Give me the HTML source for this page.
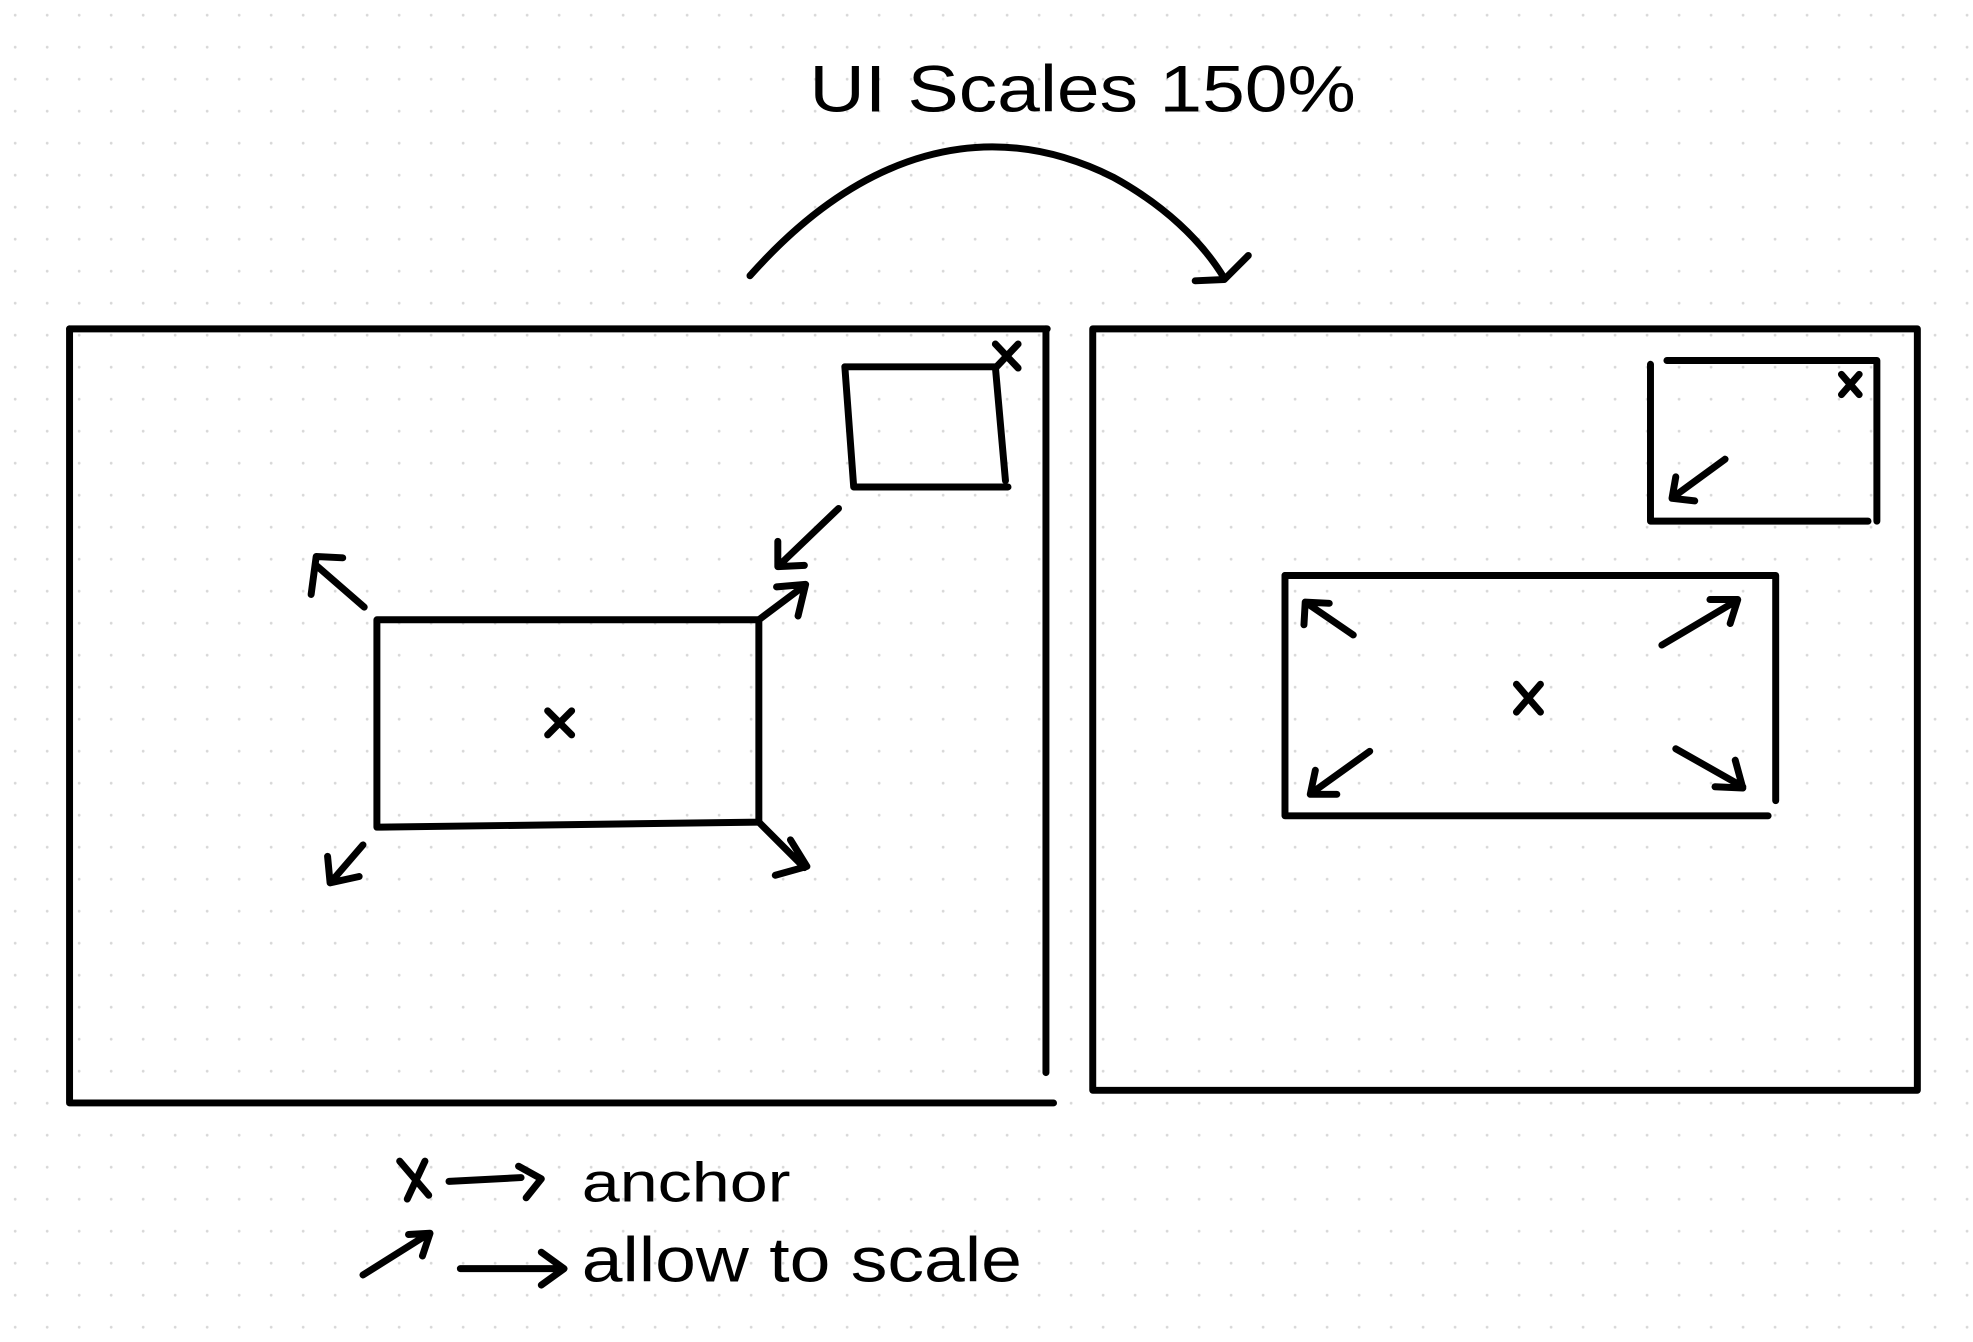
<!DOCTYPE html>
<html><head><meta charset="utf-8"><style>
html,body{margin:0;padding:0;background:#fff;}
svg{display:block;}
</style></head><body>
<svg width="1973" height="1342" viewBox="0 0 1560 1061" preserveAspectRatio="none" xmlns="http://www.w3.org/2000/svg">
<defs>
<pattern id="dots" x="0" y="0" width="25.3" height="25.3" patternUnits="userSpaceOnUse">
<circle cx="12" cy="12" r="1.1" fill="#d8d8d8"/>
</pattern>
</defs>
<rect width="1560" height="1061" fill="#fff"/>
<rect width="1560" height="1061" fill="url(#dots)"/>
<g fill="none" stroke="#000" stroke-width="5.5" stroke-linecap="round" stroke-linejoin="round">
<path d="M593,218 C680,120 780,90 880,140 C920,162 950,190 968,220"/>
<path d="M945,222 L968,221 L987,202"/>
<path d="M55,260 L828,260"/>
<path d="M55,260 L55,872 L833,872"/>
<path d="M827,260 L827,848"/>
<path d="M668,290 L787,290 L795,380"/>
<path d="M668,290 L675,385 L797,385"/>
<path d="M787,272 L805,291 M805,272 L787,291"/>
<path d="M663,402 L615,448 M615,428 L615,448 L636,447"/>
<path d="M298,490 L600,490 L600,650 L298,654 Z"/>
<path d="M433,562 L452,581 M452,562 L433,581"/>
<path d="M288,480 L250,447 M246,470 L250,440 L271,441"/>
<path d="M600,490 L636,463 M614,464 L637,462 L631,487"/>
<path d="M287,668 L262,697 M259,677 L261,698 L284,693"/>
<path d="M600,650 L636,686 M613,692 L638,685 L625,664"/>
<rect x="864" y="260" width="652" height="602"/>
<path d="M1318,285 L1484,285 L1484,412"/>
<path d="M1305,288 L1305,412 L1477,412"/>
<path d="M1456,296 L1470,312 M1470,296 L1456,312"/>
<path d="M1364,363 L1323,393 M1325,377 L1322,394 L1340,396"/>
<path d="M1016,455 L1404,455 L1404,633"/>
<path d="M1016,455 L1016,645 L1398,645"/>
<path d="M1199,541 L1218,563 M1218,541 L1199,563"/>
<path d="M1070,502 L1032,476 M1031,494 L1032,476 L1051,477"/>
<path d="M1314,510 L1373,475 M1352,474 L1374,474 L1368,493"/>
<path d="M1083,594 L1037,627 M1040,609 L1036,628 L1057,628"/>
<path d="M1325,592 L1378,622 M1372,601 L1378,623 L1356,622"/>
<path d="M316,918 L339,945 M336,918 L322,948"/>
<path d="M355,934 L412,931 M410,922 L428,932 L416,947"/>
<path d="M287,1008 L338,976 M323,976 L340,975 L334,993"/>
<path d="M364,1003 L440,1003 M428,990 L446,1003 L428,1016"/>
</g>
<text x="640" y="88" font-family="Liberation Sans, sans-serif" font-size="52" textLength="432" lengthAdjust="spacingAndGlyphs" fill="#000">UI Scales 150%</text>
<text x="460" y="950" font-family="Liberation Sans, sans-serif" font-size="44" textLength="165" lengthAdjust="spacingAndGlyphs" fill="#000">anchor</text>
<text x="460" y="1013" font-family="Liberation Sans, sans-serif" font-size="50" textLength="348" lengthAdjust="spacingAndGlyphs" fill="#000">allow to scale</text>
</svg>
</body></html>
